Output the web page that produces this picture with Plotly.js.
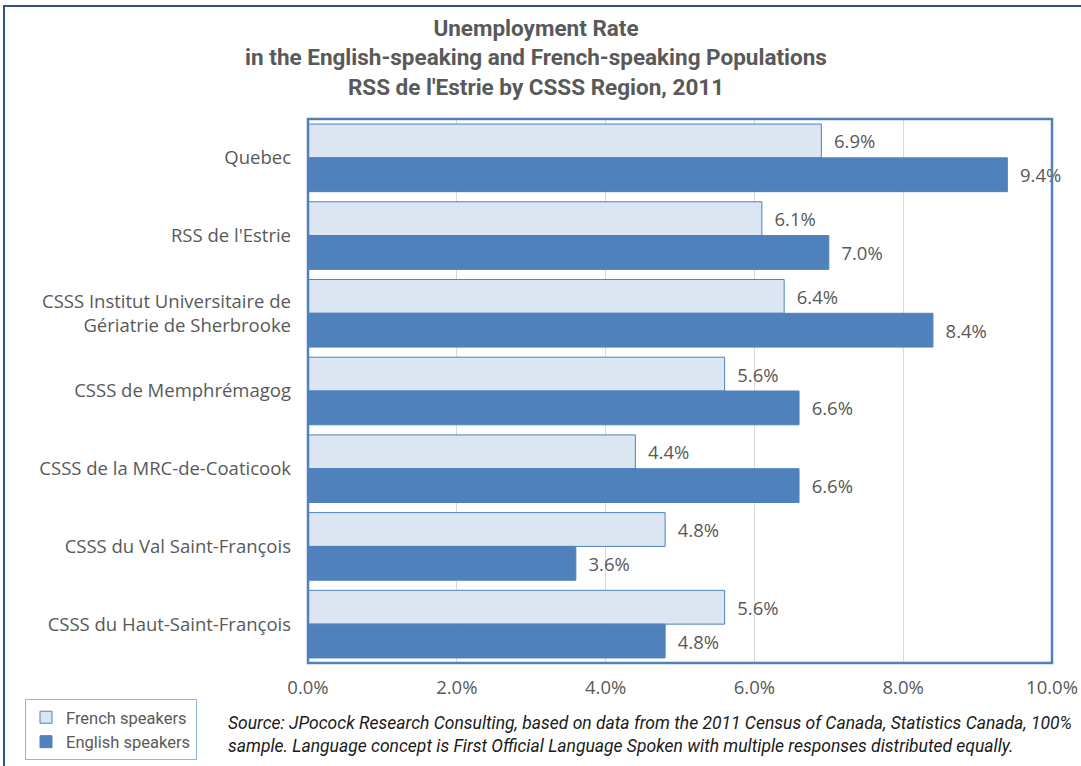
<!DOCTYPE html>
<html>
<head>
<meta charset="utf-8">
<script src="https://cdn.plot.ly/plotly-3.0.1.min.js"></script>
<style>
  html, body { margin: 0; padding: 0; background: #fff; }
  #chart { width: 1081px; height: 766px; }
</style>
</head>
<body>
<div id="chart"></div>
<script>
const categories = [
  "Quebec",
  "RSS de l'Estrie",
  "CSSS Institut Universitaire de<br>Gériatrie de Sherbrooke",
  "CSSS de Memphrémagog",
  "CSSS de la MRC-de-Coaticook",
  "CSSS du Val Saint-François",
  "CSSS du Haut-Saint-François"
];
const frenchSpeakers = [6.9, 6.1, 6.4, 5.6, 4.4, 4.8, 5.6];
const englishSpeakers = [9.4, 7.0, 8.4, 6.6, 6.6, 3.6, 4.8];
const tickValues = [0, 2, 4, 6, 8, 10];
const tickLabels = ["0.0%", "2.0%", "4.0%", "6.0%", "8.0%", "10.0%"];
const titleLines = [
  "Unemployment Rate",
  "in the English-speaking and French-speaking Populations",
  "RSS de l'Estrie by CSSS Region, 2011"
];
const sourceLines = [
  "Source: JPocock Research Consulting, based on data from the 2011 Census of Canada, Statistics Canada, 100%",
  "sample. Language concept is First Official Language Spoken with multiple responses distributed equally."
];

const W = 1081, H = 766;
const M = {l: 308, r: 29, t: 119, b: 103};
const PW = W - M.l - M.r, PH = H - M.t - M.b;
const px = v => (v - M.l) / PW;          // pixel x -> paper x
const py = v => (H - M.b - v) / PH;      // pixel y -> paper y
const cx = v => v / W;                    // pixel x -> container x
const cy = v => 1 - v / H;                // pixel y -> container y

const labelFont = {family: "Open Sans, sans-serif", size: 18.5, color: "#595959"};

const traces = [
  {
    type: "bar", orientation: "h", name: "French speakers",
    y: categories, x: frenchSpeakers,
    marker: {color: "#dce6f2", line: {color: "#4f81bd", width: 1}},
    texttemplate: "\u00a0\u00a0%{x:.1f}%", textposition: "outside",
    textfont: labelFont, cliponaxis: false, constraintext: "none",
    hoverinfo: "x+y"
  },
  {
    type: "bar", orientation: "h", name: "English speakers",
    y: categories, x: englishSpeakers,
    marker: {color: "#4f81bd", line: {color: "#4f81bd", width: 1}},
    texttemplate: "\u00a0\u00a0%{x:.1f}%", textposition: "outside",
    textfont: labelFont, cliponaxis: false, constraintext: "none",
    hoverinfo: "x+y"
  }
];

const layout = {
  width: W, height: H,
  margin: M,
  paper_bgcolor: "#ffffff", plot_bgcolor: "#ffffff",
  title: {
    text: titleLines.join("<br>"),
    font: {family: "Roboto, sans-serif", size: 22.5, color: "#595959", weight: "bold"},
    x: cx(536), xanchor: "center", xref: "container",
    y: cy(36), yanchor: "top", yref: "container"
  },
  barmode: "group",
  bargap: 0.13, bargroupgap: 0,
  xaxis: {
    range: [0, 10], tickvals: tickValues, ticktext: tickLabels,
    showgrid: true, gridcolor: "#d9d9d9", gridwidth: 1,
    zeroline: false, showline: false, ticks: "",
    tickfont: labelFont, ticklabelstandoff: 11, fixedrange: true
  },
  yaxis: {
    autorange: "reversed", showgrid: false, zeroline: false,
    showline: false, ticks: "", tickfont: labelFont,
    ticklabelstandoff: 16, fixedrange: true
  },
  showlegend: true,
  legend: {
    x: cx(25), y: cy(699), xanchor: "left", yanchor: "top",
    xref: "container", yref: "container",
    bordercolor: "#8eb4e3", borderwidth: 1, bgcolor: "#ffffff",
    font: {family: "Roboto, sans-serif", size: 16.5, color: "#595959"},
    traceorder: "normal", itemwidth: 30, tracegroupgap: 0
  },
  shapes: [
    {type: "rect", xref: "paper", yref: "paper", x0: 0, x1: 1, y0: 0, y1: 1,
     line: {color: "#4f81bd", width: 2.5}, fillcolor: "rgba(0,0,0,0)", layer: "above"},
    {type: "rect", xref: "paper", yref: "paper",
     x0: px(4), x1: px(1090), y0: py(6), y1: py(775),
     line: {color: "#2e5387", width: 2}, fillcolor: "rgba(0,0,0,0)", layer: "above"}
  ],
  annotations: [
    {
      xref: "paper", yref: "paper", x: px(226), y: py(734),
      xanchor: "left", yanchor: "middle", align: "left", showarrow: false,
      text: "<i>" + sourceLines.join("<br>") + "</i>",
      font: {family: "Roboto, sans-serif", size: 17.5, color: "#1a1a1a"}
    }
  ]
};

Plotly.newPlot("chart", traces, layout, {displayModeBar: false, staticPlot: true});
</script>
</body>
</html>
